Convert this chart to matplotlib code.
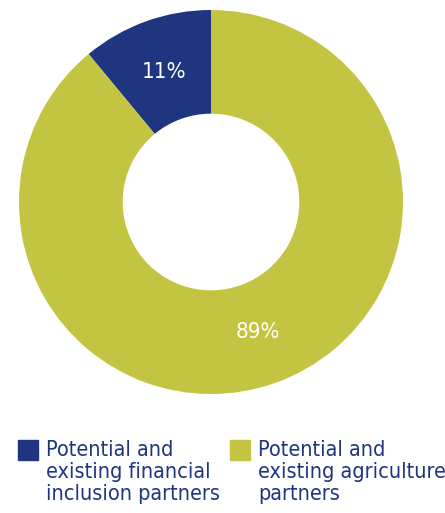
import matplotlib.pyplot as plt
from matplotlib.patches import Rectangle

# partner split
categories = ['Potential and\nexisting financial\ninclusion partners',
              'Potential and\nexisting agriculture\npartners']
shares = [11, 89]
colors = ['#1f3580', '#c4c443']

plt.rcParams['font.family'] = ['DejaVu Sans']
plt.rcParams['font.stretch'] = 'condensed'

fig = plt.figure(figsize=(4.45, 5.13), dpi=100)
ax = fig.add_axes([19/445, 119/513, 384/445, 384/513])

wedges, texts, autotexts = ax.pie(
    shares, colors=colors, startangle=90, counterclock=True,
    radius=1.0, autopct='%d%%', pctdistance=0.72,
    wedgeprops=dict(width=0.54, linewidth=0),
    textprops=dict(color='white', fontsize=16))
ax.set_xlim(-1, 1)
ax.set_ylim(-1, 1)
ax.set_aspect('equal')
ax.axis('off')

# legend drawn by hand: square + three lines of text
legend_x = [18, 230]
for i, lab in enumerate(categories):
    x0 = legend_x[i]
    fig.patches.append(Rectangle((x0/445, 1 - 460/513), 20/445, 20/513,
                                 transform=fig.transFigure, color=colors[i]))
    fig.text((x0 + 28)/445, 1 - 440/513, lab, color='#1f3580', fontsize=15.5,
             va='top', ha='left', linespacing=1.12)

fig.savefig('out.png', dpi=100)
